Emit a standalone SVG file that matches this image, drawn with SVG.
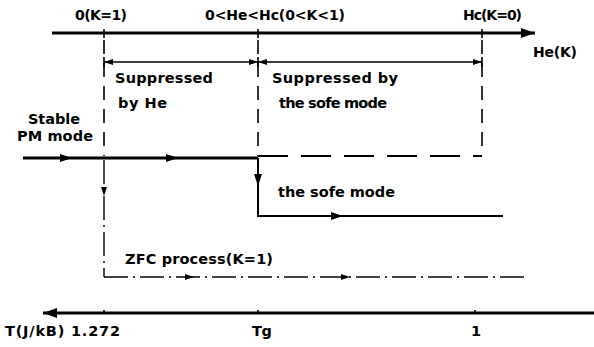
<svg xmlns="http://www.w3.org/2000/svg" width="594" height="347" viewBox="0 0 594 347">
<style>
text{font-family:"DejaVu Sans","Liberation Sans",Arial,sans-serif;font-weight:bold;font-size:14.5px;fill:#000}
.top{font-size:14px}
.ax{stroke:#000;stroke-width:3;fill:none}
.thick{stroke:#000;stroke-width:3;fill:none}
.solid{stroke:#000;stroke-width:2;fill:none}
.dim{stroke:#000;stroke-width:1.6;fill:none}
.dash{stroke:#000;stroke-width:1.6;fill:none;stroke-dasharray:14 9}
.hdash{stroke:#000;stroke-width:2;fill:none;stroke-dasharray:30 13}
.dd{stroke:#000;stroke-width:1.4;fill:none;stroke-dasharray:24 5 2 5}
.tick{stroke:#000;stroke-width:1.6}
</style>
<defs>
<marker id="arr" markerUnits="userSpaceOnUse" markerWidth="12" markerHeight="8" refX="12" refY="4" orient="auto"><path d="M0,0 L12,4 L0,8 z" fill="#000"/></marker>
<marker id="arrS" markerUnits="userSpaceOnUse" markerWidth="9" markerHeight="6" refX="9" refY="3" orient="auto-start-reverse"><path d="M0,0 L9,3 L0,6 z" fill="#000"/></marker>
<marker id="arrBig" markerUnits="userSpaceOnUse" markerWidth="14" markerHeight="10" refX="14" refY="5" orient="auto"><path d="M0,0 L14,5 L0,10 z" fill="#000"/></marker>
</defs>
<g id="connectors">
<path class="ax" d="M52,33 L535,33" marker-end="url(#arrBig)"/>
<line class="tick" x1="104" y1="29" x2="104" y2="38"/>
<line class="tick" x1="258" y1="29" x2="258" y2="38"/>
<line class="tick" x1="482" y1="29" x2="482" y2="38"/>
<path class="dim" d="M104,62 L258,62" marker-start="url(#arrS)" marker-end="url(#arrS)"/>
<path class="dim" d="M258,62 L482,62" marker-start="url(#arrS)" marker-end="url(#arrS)"/>
<line class="tick" x1="104" y1="57" x2="104" y2="67"/>
<line class="tick" x1="258" y1="57" x2="258" y2="67"/>
<line class="tick" x1="482" y1="57" x2="482" y2="67"/>
<path class="dash" d="M104,40 L104,156"/>
<path class="dash" d="M258,40 L258,156"/>
<path class="dash" d="M482,40 L482,155"/>
<polyline class="thick" points="23,158 72,158 178,158 258,158" marker-mid="url(#arr)"/>
<path class="hdash" d="M258,156 L482,156"/>
<polyline class="solid" points="258,158 258,186 258,216" marker-mid="url(#arr)"/>
<polyline class="solid" points="257,216 343,216 503,216" marker-mid="url(#arr)"/>
<polyline class="dd" points="104,160 104,196 104,277" marker-mid="url(#arrS)"/>
<polyline class="dd" points="104,277 194,277 350,277 526,277" marker-mid="url(#arrS)"/>
<path class="ax" d="M594,313 L43,313" marker-end="url(#arrBig)"/>
<line class="tick" x1="104" y1="310" x2="104" y2="313"/>
<line class="tick" x1="258" y1="310" x2="258" y2="313"/>
<line class="tick" x1="475" y1="310" x2="475" y2="313"/>
</g>
<g id="top-labels">
<text class="top" x="75" y="20" textLength="52">0(K=1)</text>
<text class="top" x="205" y="20" textLength="140">0&lt;He&lt;Hc(0&lt;K&lt;1)</text>
<text class="top" x="463" y="20" textLength="59">Hc(K=0)</text>
<text class="top" x="533" y="57" textLength="44">He(K)</text>
</g>
<g id="suppressed-he">
<text x="115" y="83" textLength="98">Suppressed</text>
<text x="118" y="108" textLength="49">by He</text>
</g>
<g id="suppressed-sofe">
<text x="272" y="83" textLength="126">Suppressed by</text>
<text x="279" y="108" textLength="108">the sofe mode</text>
</g>
<g id="stable-pm">
<text x="28" y="124" textLength="52">Stable</text>
<text x="17" y="141" textLength="76">PM mode</text>
</g>
<g id="sofe-mode">
<text x="278" y="197" textLength="117">the sofe mode</text>
</g>
<g id="zfc">
<text x="125" y="264" textLength="148">ZFC process(K=1)</text>
</g>
<g id="bottom-labels">
<text x="5" y="336" textLength="115">T(J/kB) 1.272</text>
<text x="252" y="336" textLength="20">Tg</text>
<text x="471" y="336">1</text>
</g>
</svg>
